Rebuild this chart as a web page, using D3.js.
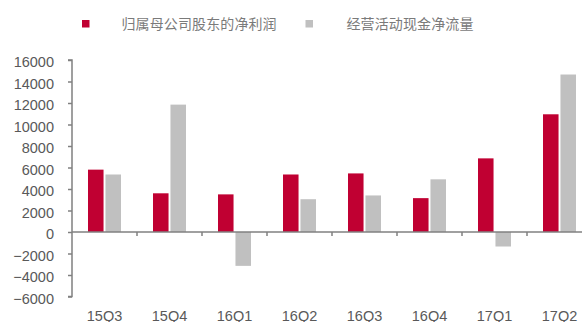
<!DOCTYPE html>
<html>
<head>
<meta charset="utf-8">
<script src="https://cdn.jsdelivr.net/npm/d3@7/dist/d3.min.js"></script>
<style>
  html, body { margin: 0; padding: 0; background: #fff; }
  svg { display: block; }
</style>
</head>
<body>
<svg id="chart" width="582" height="322"></svg>
<script>
// Quarterly figures (万元)
const quarters = ["15Q3", "15Q4", "16Q1", "16Q2", "16Q3", "16Q4", "17Q1", "17Q2"];
const netProfit = [5800, 3600, 3500, 5350, 5450, 3150, 6850, 10950];
const operatingCashFlow = [5350, 11850, -3150, 3050, 3400, 4900, -1350, 14650];
const seriesNames = ["归属母公司股东的净利润", "经营活动现金净流量"];
const yTicks = [-6000, -4000, -2000, 0, 2000, 4000, 6000, 8000, 10000, 12000, 14000, 16000];

const colors = ["#C00032", "#C0C0C0"];
const textColor = "#595959";
const axisColor = "#808080";

const svg = d3.select("#chart");
const plotLeft = 72, bandW = 65;
const plotRight = plotLeft + bandW * quarters.length;

const x = d3.scaleBand()
  .domain(quarters)
  .range([plotLeft, plotRight])
  .paddingInner(0)
  .paddingOuter(0);

const y = d3.scaleLinear().domain([-6000, 16000]).range([296.5, 60]);

const sub = d3.scaleBand()
  .domain([0, 1])
  .range([16, bandW - 16])
  .paddingInner(0.11);

// Bars
const series = [netProfit, operatingCashFlow];
series.forEach((vals, si) => {
  svg.append("g")
    .selectAll("rect")
    .data(quarters.map((q, i) => ({ q, v: vals[i] })))
    .join("rect")
    .attr("x", d => x(d.q) + sub(si))
    .attr("width", sub.bandwidth())
    .attr("y", d => y(Math.max(0, d.v)))
    .attr("height", d => Math.abs(y(d.v) - y(0)))
    .attr("fill", colors[si]);
});

// Y axis
const yAxis = d3.axisLeft(y).tickValues(yTicks).tickSize(4).tickPadding(14).tickFormat(d3.format("d"));
const yg = svg.append("g").attr("transform", `translate(${plotLeft},0)`).call(yAxis);
yg.select(".domain").attr("stroke", axisColor).attr("stroke-width", 1.5).attr("d", `M-4,${y(16000)}H0V${y(-6000)}H-4`);
yg.selectAll(".tick line").attr("stroke", axisColor).attr("stroke-width", 1.5);
yg.selectAll(".tick text")
  .attr("fill", textColor)
  .attr("font-family", "Liberation Sans, Arial, sans-serif")
  .attr("font-size", "14.5px")
  .attr("dy", "0.45em");

// Zero baseline with category separators
const xg = svg.append("g");
xg.append("line")
  .attr("x1", plotLeft).attr("x2", plotRight)
  .attr("y1", y(0)).attr("y2", y(0))
  .attr("stroke", axisColor).attr("stroke-width", 1.5);
xg.selectAll("line.sep")
  .data(quarters.slice(1))
  .join("line")
  .attr("class", "sep")
  .attr("x1", d => x(d)).attr("x2", d => x(d))
  .attr("y1", y(0)).attr("y2", y(0) + 4)
  .attr("stroke", axisColor).attr("stroke-width", 1.5);

// Category labels along the bottom
svg.append("g")
  .selectAll("text")
  .data(quarters)
  .join("text")
  .attr("x", d => x(d) + bandW / 2)
  .attr("y", 320.5)
  .attr("text-anchor", "middle")
  .attr("fill", textColor)
  .attr("font-family", "Liberation Sans, Arial, sans-serif")
  .attr("font-size", "14.5px")
  .text(d => d);

// Legend
const legendItems = [
  { name: seriesNames[0], color: colors[0], sx: 82, tx: 121.5 },
  { name: seriesNames[1], color: colors[1], sx: 305.5, tx: 346.5 }
];
const lg = svg.append("g");
legendItems.forEach(it => {
  lg.append("rect").attr("x", it.sx).attr("y", 20).attr("width", 7.5).attr("height", 7.5).attr("fill", it.color);
  lg.append("text")
    .attr("x", it.tx).attr("y", 28.5)
    .attr("fill", "#7a7a7a")
    .attr("font-family", "Noto Sans CJK SC, sans-serif")
    .attr("font-size", "14px")
    .attr("textLength", it.name.length * 14.1)
    .text(it.name);
});
</script>
</body>
</html>
